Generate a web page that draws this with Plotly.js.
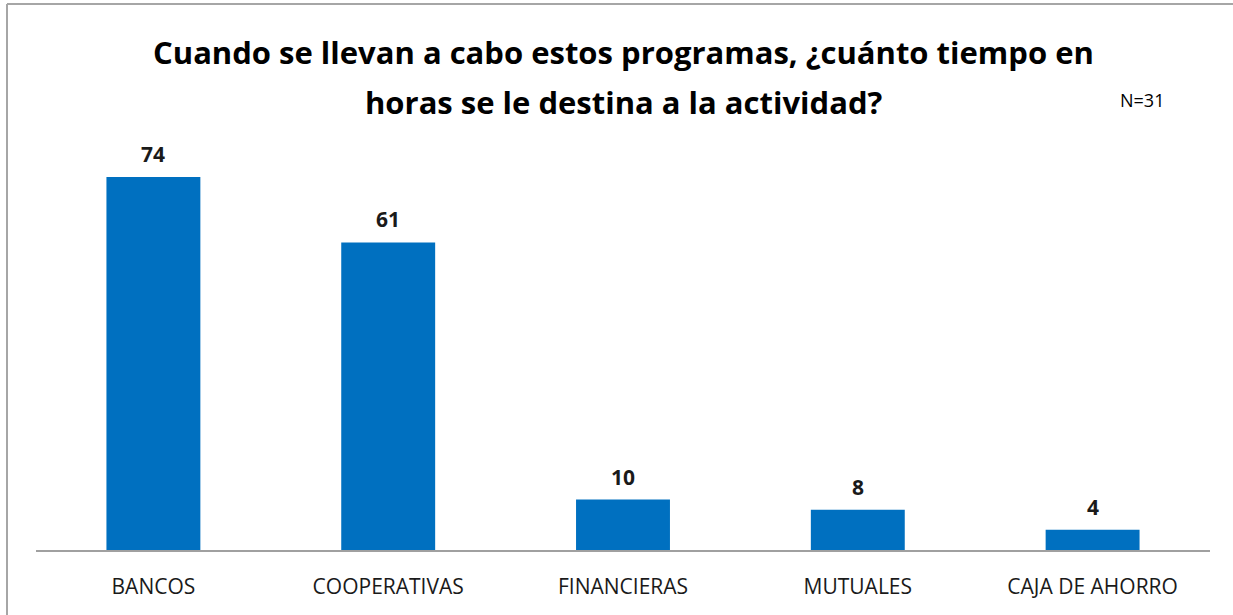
<!DOCTYPE html>
<html>
<head>
<meta charset="utf-8">
<script src="https://cdn.plot.ly/plotly-3.0.1.min.js"></script>
<style>
  html, body { margin: 0; padding: 0; background: #fff; overflow: hidden; }
  #chart { width: 1233px; height: 615px; }
</style>
</head>
<body>
<div id="chart"></div>
<script>
// horas destinadas por tipo de entidad
const categorias = ['BANCOS', 'COOPERATIVAS', 'FINANCIERAS', 'MUTUALES', 'CAJA DE AHORRO'];
const horas = [74, 61, 10, 8, 4];
const titulo = ['Cuando se llevan a cabo estos programas, ¿cuánto tiempo en',
                'horas se le destina a la actividad?'];
const nota = 'N=31';

const barColor = '#0070C0';
const font = '"Open Sans", "Noto Sans", sans-serif';

// plot area: x 36..1210, y 130..550 (px)
const px = x => (x - 36) / 1174;
const py = y => (550 - y) / 420;

const trace = {
  type: 'bar',
  x: categorias,
  y: horas,
  marker: { color: barColor },
  hoverinfo: 'x+y'
};

// etiquetas de valor arriba de cada barra
const etiquetas = categorias.map((c, i) => ({
  x: c,
  y: horas[i],
  text: '<b>' + horas[i] + '</b>',
  showarrow: false,
  yanchor: 'bottom',
  yshift: 7,
  font: { family: font, size: 21, color: '#1a1a1a' }
}));

// título en dos líneas (interlineado como en el original)
const lineasTitulo = titulo.map((t, i) => ({
  xref: 'paper', yref: 'paper',
  x: px(623), y: py(52 + i * 50),
  text: '<b>' + t + '</b>',
  showarrow: false,
  xanchor: 'center', yanchor: 'middle',
  font: { family: font, size: 31, color: '#000' }
}));

const layout = {
  width: 1233,
  height: 615,
  margin: { l: 36, r: 23, t: 130, b: 65 },
  paper_bgcolor: '#fff',
  plot_bgcolor: '#fff',
  bargap: 0.6,
  showlegend: false,
  xaxis: {
    showgrid: false,
    zeroline: false,
    showline: true,
    linecolor: '#a0a0a0',
    linewidth: 2,
    ticks: 'outside',
    ticklen: 17,
    tickcolor: 'rgba(0,0,0,0)',
    tickfont: { family: font, size: 21, color: '#1a1a1a' }
  },
  yaxis: {
    range: [0, 83.3],
    visible: false,
    fixedrange: true
  },
  annotations: etiquetas.concat(lineasTitulo, [{
    xref: 'paper', yref: 'paper',
    x: px(1142), y: py(100),
    text: nota,
    showarrow: false,
    xanchor: 'center', yanchor: 'middle',
    font: { family: font, size: 18, color: '#000' }
  }]),
  shapes: [
    // marco del gráfico (borde superior e izquierdo)
    { type: 'line', xref: 'paper', yref: 'paper',
      x0: px(7), x1: 1.1, y0: py(4), y1: py(4),
      line: { color: '#a6a6a6', width: 2 } },
    { type: 'line', xref: 'paper', yref: 'paper',
      x0: px(7), x1: px(7), y0: py(4), y1: -0.3,
      line: { color: '#a6a6a6', width: 2 } }
  ]
};

Plotly.newPlot('chart', [trace], layout, { displayModeBar: false, staticPlot: true });
</script>
</body>
</html>
